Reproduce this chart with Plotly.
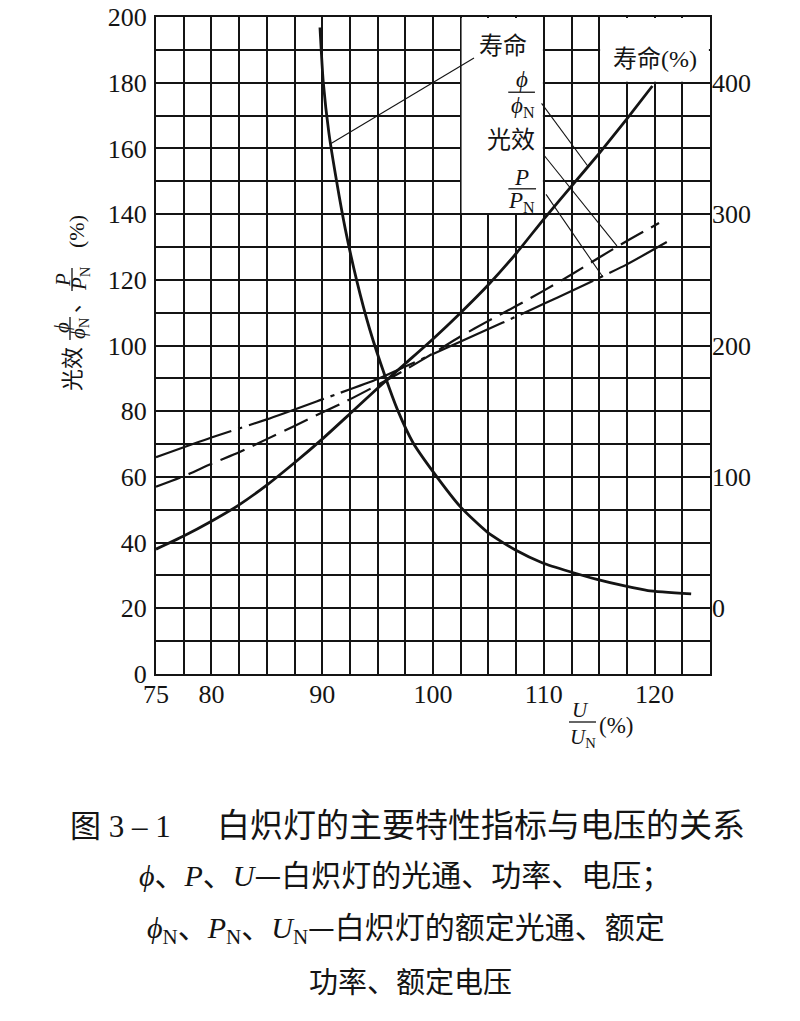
import plotly.graph_objects as go

# ---------------- data ----------------
x_ticks = [75, 80, 90, 100, 110, 120]
y_ticks = [0, 20, 40, 60, 80, 100, 120, 140, 160, 180, 200]
life_ticks = [0, 100, 200, 300, 400]

# luminous flux  phi/phiN (%)
u_flux = [75, 77.5, 80, 82.5, 85, 87.5, 90, 92.5, 95, 97.5, 100, 102.5, 105, 107.5, 110, 112.5, 115, 117.5, 119.8]
flux = [38, 42, 46.5, 51.5, 57.5, 64.3, 71.5, 79.2, 87, 94.5, 102, 110, 118.5, 128, 138.5, 148.5, 158.5, 169, 179]

# power  P/PN (%)
u_power = [75, 80, 85, 90, 95, 97.5, 100, 102.5, 105, 107.5, 110, 112.5, 115, 117.5, 121.1]
power = [66, 72, 77.5, 83.6, 89.8, 93.6, 97.4, 101.2, 105, 108.8, 112.7, 116.6, 120.6, 124.7, 131.5]

# luminous efficacy  光效 (%)
u_eff = [75, 77.5, 80, 82.5, 85, 87.5, 90, 92.5, 95, 97.5, 100, 102.5, 105, 107.5, 110, 112.5, 115, 117.5, 120.4]
efficacy = [57, 60.2, 64, 67.5, 71.5, 75.5, 79.6, 83.6, 88, 92.6, 97.6, 102.8, 107.5, 112, 116.7, 121.6, 126.8, 131.8, 137.3]

# life 寿命 (%), right axis
u_life = [89.8, 90.1, 90.6, 91.3, 92.1, 93.1, 94.3, 95.7, 96.8, 98.2, 100, 102.5, 104.9, 107.4, 109.9, 112.3, 114.8, 117.3, 119.4, 123.3]
life = [442, 400, 362, 325, 288, 250, 212, 176, 151, 126, 104, 77, 58, 44.5, 34.5, 28, 22, 17, 13.5, 11]

# ---------------- layout constants ----------------
W_PX, H_PX = 800, 1021
L, R, T, B = 156, 710, 17, 674
PW, PH = R - L, B - T
INK = "#141414"
SERIF = "Liberation Serif"
CJK = "Noto Sans CJK SC"
PHI = "\u03d5"


def px(x):
    return (x - L) / PW


def py(y):
    return (B - y) / PH


fig = go.Figure()

fig.add_trace(go.Scatter(x=u_flux, y=flux, mode="lines", name="φ/φN",
                         line=dict(color=INK, width=2.8, shape="spline", smoothing=0.6),
                         hoverinfo="skip"))
fig.add_trace(go.Scatter(x=u_power, y=power, mode="lines", name="P/PN",
                         line=dict(color=INK, width=2.2, dash="80px,7px,4px,7px", shape="spline", smoothing=0.6),
                         hoverinfo="skip"))
fig.add_trace(go.Scatter(x=u_eff, y=efficacy, mode="lines", name="光效",
                         line=dict(color=INK, width=2.2, dash="26px,9px", shape="spline", smoothing=0.6),
                         hoverinfo="skip"))
fig.add_trace(go.Scatter(x=u_life, y=life, mode="lines", name="寿命", yaxis="y2",
                         line=dict(color=INK, width=2.8, shape="spline", smoothing=0.6),
                         hoverinfo="skip"))

grid = dict(showgrid=True, gridcolor=INK, gridwidth=1.5)
tickfont = dict(family=SERIF, size=26, color=INK)

fig.update_layout(
    width=W_PX, height=H_PX,
    margin=dict(l=L, r=W_PX - R, t=T, b=H_PX - B, autoexpand=False),
    paper_bgcolor="white", plot_bgcolor="white",
    showlegend=False,
    xaxis=dict(range=[75, 125], tickmode="array", tickvals=x_ticks,
               ticktext=[str(v) for v in x_ticks], automargin=False,
               showline=True, mirror=True, linecolor=INK, linewidth=2,
               zeroline=False, ticks="", ticklabelstandoff=-4,
               tickfont=tickfont,
               minor=dict(tickmode="linear", tick0=75, dtick=2.5, ticks="", **grid),
               **grid),
    yaxis=dict(range=[0, 200], tickmode="array", tickvals=y_ticks, automargin=False,
               showline=True, mirror=True, linecolor=INK, linewidth=2,
               zeroline=False, ticks="", ticklabelstandoff=2,
               tickfont=tickfont,
               minor=dict(tickmode="linear", tick0=0, dtick=10, ticks="", **grid),
               **grid),
    yaxis2=dict(range=[-50, 450], overlaying="y", side="right", automargin=False,
                tickmode="array", tickvals=life_ticks, showgrid=False,
                zeroline=False, showline=False, ticks="", ticklabelstandoff=1,
                tickfont=tickfont),
)

shapes = []
# white label boxes that hide the grid
shapes.append(dict(type="rect", xref="x", yref="y", x0=102.58, x1=109.92, y0=140.3, y1=199.7,
                   fillcolor="white", line=dict(width=0), layer="between"))
shapes.append(dict(type="rect", xref="x", yref="y", x0=115.08, x1=124.9, y0=180.3, y1=199.7,
                   fillcolor="white", line=dict(width=0), layer="between"))

# leader lines
for (x0, y0, x1, y1) in [(103.7, 187.5, 90.8, 161.5),
                         (109.8, 173.7, 114.0, 154.5),
                         (110.0, 158.0, 116.6, 130.3),
                         (110.2, 146.0, 115.3, 121.0)]:
    shapes.append(dict(type="line", xref="x", yref="y", x0=x0, y0=y0, x1=x1, y1=y1,
                       line=dict(color=INK, width=1.1), layer="above"))

# fraction bars inside the plot
shapes.append(dict(type="line", xref="x", yref="y", x0=106.8, x1=109.2, y0=177.1, y1=177.1,
                   line=dict(color=INK, width=1.3)))
shapes.append(dict(type="line", xref="x", yref="y", x0=106.8, x1=109.3, y0=147.7, y1=147.7,
                   line=dict(color=INK, width=1.3)))
# fraction bars outside (paper coords)
shapes.append(dict(type="line", xref="paper", yref="paper", x0=px(70), x1=px(70), y0=py(317), y1=py(340),
                   line=dict(color=INK, width=1.3)))
shapes.append(dict(type="line", xref="paper", yref="paper", x0=px(72), x1=px(72), y0=py(268), y1=py(291),
                   line=dict(color=INK, width=1.3)))
shapes.append(dict(type="line", xref="paper", yref="paper", x0=px(569), x1=px(596), y0=py(722), y1=py(722),
                   line=dict(color=INK, width=1.3)))
fig.update_layout(shapes=shapes)

ann = []


def data_text(x, y, text, family, size, angle=0):
    ann.append(dict(x=x, y=y, xref="x", yref="y", text=text, showarrow=False,
                    font=dict(family=family, size=size, color=INK),
                    xanchor="center", yanchor="middle", textangle=angle))


def pix_text(x, y, text, family, size, angle=0, anchor="center"):
    ann.append(dict(x=px(x), y=py(y), xref="paper", yref="paper", text=text, showarrow=False,
                    font=dict(family=family, size=size, color=INK),
                    xanchor=anchor, yanchor="middle", textangle=angle))


# labels inside the plot
data_text(106.3, 192, "寿命", CJK, 24)
data_text(120.0, 188, '寿命<span style="font-family:Liberation Serif">(%)</span>', CJK, 24)
data_text(108.0, 180.9, "<i>" + PHI + "</i>", SERIF, 23)
data_text(108.1, 172.6, "<i>" + PHI + "</i><sub>N</sub>", SERIF, 23)
data_text(107.0, 163.3, "光效", CJK, 24)
data_text(108.0, 151.1, "<i>P</i>", SERIF, 23)
data_text(108.0, 143.8, "<i>P</i><sub>N</sub>", SERIF, 23)

# y-axis title (rotated pieces)
pix_text(70, 369, "光效", CJK, 22, -90)
pix_text(62, 328, "<i>" + PHI + "</i>", SERIF, 21, -90)
pix_text(79, 328, "<i>" + PHI + "</i><sub>N</sub>", SERIF, 21, -90)
pix_text(70, 302, "、", CJK, 21, -90)
pix_text(63, 280, "<i>P</i>", SERIF, 21, -90)
pix_text(80, 279, "<i>P</i><sub>N</sub>", SERIF, 21, -90)
pix_text(76, 232, "(%)", SERIF, 22, -90)

# x-axis title
pix_text(580, 710, "<i>U</i>", SERIF, 21)
pix_text(583, 738, "<i>U</i><sub>N</sub>", SERIF, 21)
pix_text(616, 725, "(%)", SERIF, 23)

# caption
ser = lambda s: '<span style="font-family:Liberation Serif">' + s + '</span>'
pix_text(68, 823, "图" + ser(" 3 – 1"), CJK, 31, anchor="left")
pix_text(215, 823, "白炽灯的主要特性指标与电压的关系", CJK, 33, anchor="left")
pix_text(405, 873, ser("<i>" + PHI + "</i>") + "、" + ser("<i>P</i>") + "、" + ser("<i>U</i>")
         + "—白炽灯的光通、功率、电压；", CJK, 30)
pix_text(406, 926, ser("<i>" + PHI + "</i><sub>N</sub>") + "、" + ser("<i>P</i><sub>N</sub>") + "、"
         + ser("<i>U</i><sub>N</sub>") + "—白炽灯的额定光通、额定", CJK, 30)
pix_text(410, 980, "功率、额定电压", CJK, 29)

fig.update_layout(annotations=ann)

fig.write_html("out.html", config={"displayModeBar": False},
               post_script="document.body.style.margin='0px';")
